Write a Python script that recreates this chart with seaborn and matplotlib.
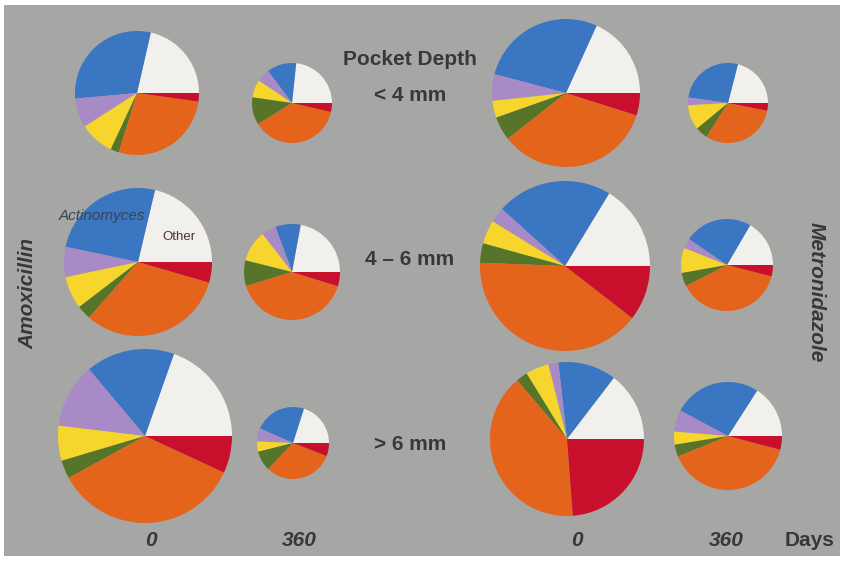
import matplotlib
matplotlib.use("Agg")
import matplotlib.pyplot as plt
from matplotlib.patches import Rectangle
import seaborn as sns

# Slice order, counter-clockwise from 3 o'clock
groups = ["Other", "Actinomyces", "Group C", "Group D", "Group E", "Group F", "Group G"]

# Proportions (%) per treatment / pocket depth / day
amox_lt4_d0 = [21.4, 30.0, 7.6, 9.0, 2.2, 27.5, 2.2]
amox_lt4_d360 = [23.3, 11.9, 5.3, 7.2, 11.1, 37.5, 3.6]
metro_lt4_d0 = [18.2, 27.7, 5.8, 3.7, 5.2, 34.5, 4.9]
metro_lt4_d360 = [21.0, 26.8, 3.1, 10.1, 5.0, 30.9, 3.1]

amox_4to6_d0 = [21.3, 25.4, 6.6, 7.1, 3.1, 32.0, 4.5]
amox_4to6_d360 = [22.1, 8.5, 4.9, 10.6, 8.6, 40.5, 4.8]
metro_4to6_d0 = [16.3, 22.0, 2.9, 4.5, 3.7, 40.1, 10.5]
metro_4to6_d360 = [16.6, 23.9, 3.5, 8.8, 4.7, 38.5, 4.0]

amox_gt6_d0 = [19.6, 16.5, 12.0, 6.5, 3.4, 35.1, 6.9]
amox_gt6_d360 = [20.1, 23.3, 5.9, 4.6, 9.0, 31.2, 5.9]
metro_gt6_d0 = [14.6, 12.2, 2.1, 4.9, 2.4, 40.0, 23.8]
metro_gt6_d360 = [15.9, 26.3, 6.5, 3.9, 3.6, 39.7, 4.1]

depth_labels = ["< 4 mm", "4 \u2013 6 mm", "> 6 mm"]
day_labels = ["0", "360", "0", "360"]

W, H = 842, 561

# (data, centre x, centre y, radius) in pixel units of the canvas
panels = [
    (amox_lt4_d0, 137, 93, 62), (amox_lt4_d360, 292, 103, 40),
    (metro_lt4_d0, 566, 93, 74), (metro_lt4_d360, 728, 103, 40),
    (amox_4to6_d0, 138, 262, 74), (amox_4to6_d360, 292, 272, 48),
    (metro_4to6_d0, 565, 266, 85), (metro_4to6_d360, 727, 265, 46),
    (amox_gt6_d0, 145, 436, 87), (amox_gt6_d360, 293, 443, 36),
    (metro_gt6_d0, 567, 439, 77), (metro_gt6_d360, 728, 436, 54),
]

sns.set_style("white")
plt.rcParams["font.family"] = ["Liberation Sans", "DejaVu Sans"]

palette = sns.color_palette(["#f1f0ec", "#3a76c2", "#a88bc6", "#f6d52c",
                             "#567528", "#e4641c", "#c8102c"])

fig = plt.figure(figsize=(W / 100, H / 100), dpi=100, facecolor="white")
ax = fig.add_axes([0, 0, 1, 1])

for values, cx, cy, r in panels:
    ax.pie(values, colors=palette, radius=r, center=(cx, H - cy),
           startangle=0, counterclock=True,
           wedgeprops=dict(linewidth=0, antialiased=True))

ax.set_xlim(0, W)
ax.set_ylim(0, H)
ax.set_aspect("equal")
ax.axis("off")

# grey slide background
fig.patches.append(Rectangle((4 / W, 5 / H), 836 / W, 551 / H,
                             transform=fig.transFigure, facecolor="#a6a6a4",
                             edgecolor="none", zorder=-10))

txt = "#383838"
ax.text(410, H - 59, "Pocket Depth", ha="center", va="center",
        fontsize=15, fontweight="bold", color=txt)
for label, y in zip(depth_labels, [95, 259, 444]):
    ax.text(410, H - y, label, ha="center", va="center",
            fontsize=15, fontweight="bold", color=txt)

for label, x in zip(day_labels, [151, 299, 577, 726]):
    ax.text(x, H - 541, label, ha="center", va="center", fontsize=15,
            fontweight="bold", fontstyle="italic", color=txt)
ax.text(810, H - 541, "Days", ha="center", va="center", fontsize=15,
        fontweight="bold", color=txt)

ax.text(28, H - 293, "Amoxicillin", ha="center", va="center", rotation=90,
        fontsize=15, fontweight="bold", fontstyle="italic", color=txt)
ax.text(816, H - 292, "Metronidazole", ha="center", va="center", rotation=-90,
        fontsize=15, fontweight="bold", fontstyle="italic", color=txt)

ax.text(102, H - 216, "Actinomyces", ha="center", va="center", fontsize=11,
        fontstyle="italic", color="#3a4350")
ax.text(179, H - 237, "Other", ha="center", va="center", fontsize=9.5,
        color="#4e3434")

fig.savefig("out.png", dpi=100, facecolor="white")
